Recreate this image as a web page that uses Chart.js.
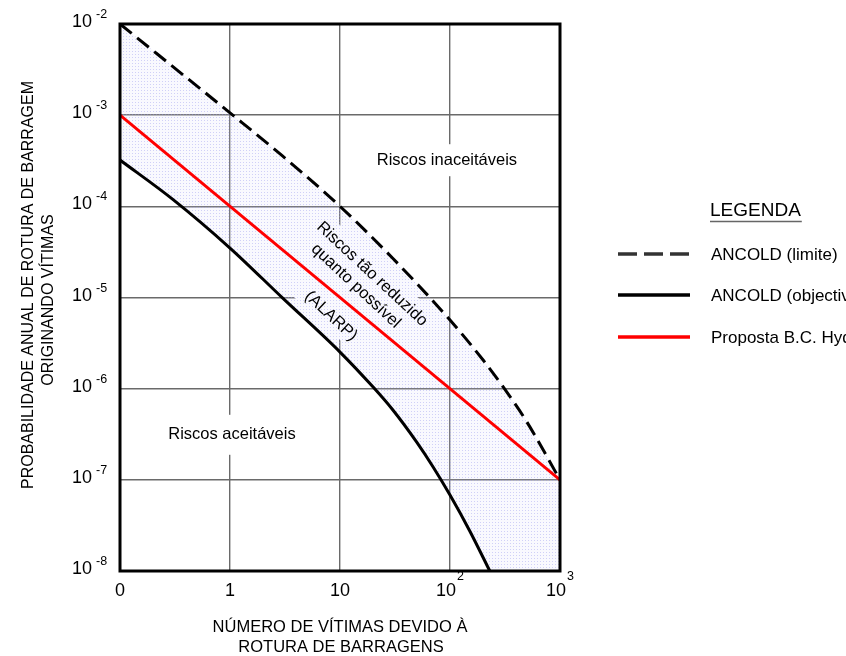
<!DOCTYPE html>
<html><head><meta charset="utf-8">
<script src="https://cdn.jsdelivr.net/npm/chart.js@4/dist/chart.umd.min.js"></script>
<style>html,body{margin:0;padding:0;background:#fff;overflow:hidden}canvas{display:block}</style>
</head><body>
<canvas id="c" width="846" height="656"></canvas>
<script>
// ---- data ----
const xTickValues = [0.1, 1, 10, 100, 1000];
const xTickBase   = ['0', '1', '10', '10', '10'];
const xTickSup    = ['', '', '', '2', '3'];
const yTickExps   = [-2, -3, -4, -5, -6, -7, -8];

const limiteN = [0.1, 1, 3, 10, 30, 100, 200, 300, 500, 1000];
const limiteP = [1e-2, 1.06e-3, 3.57e-4, 1e-4, 2.71e-5, 5.66e-6, 2.06e-6, 1.07e-6, 4.31e-7, 1e-7];

const objectivoN = [0.1, 0.3, 1, 3, 10, 20, 30, 50, 70, 100, 150, 230];
const objectivoP = [3.22e-4, 1.2e-4, 3.49e-5, 9.9e-6, 2.52e-6, 1.04e-6, 5.9e-7, 2.57e-7, 1.39e-7, 6.8e-8, 2.8e-8, 1e-8];

const hydroN = [0.1, 1000];
const hydroP = [1e-3, 1e-7];

const seriesLabels = ['ANCOLD (limite)', 'ANCOLD (objectivo)', 'Proposta B.C. Hydro'];
const yAxisTitle = ['PROBABILIDADE ANUAL DE ROTURA DE BARRAGEM', 'ORIGINANDO VÍTIMAS'];
const xAxisTitle = ['NÚMERO DE VÍTIMAS DEVIDO À', 'ROTURA DE BARRAGENS'];
const legendTitle = 'LEGENDA';
const zoneUnacceptable = 'Riscos inaceitáveis';
const zoneAcceptable = 'Riscos aceitáveis';
const zoneAlarp = ['Riscos tão reduzido', 'quanto possível', '(ALARP)'];

// ---- helpers ----
const FF = '"Liberation Sans", Arial, sans-serif';
const pts = (xs, ys) => xs.map((x, i) => ({x: x, y: ys[i]}));
// lower edge of the shaded band: the objectivo curve continued below the axis (clipped)
const boundary = pts(objectivoN, objectivoP).concat([{x: 1000, y: 3e-10}]);

const pc = document.createElement('canvas'); pc.width = 3; pc.height = 3;
const pcx = pc.getContext('2d');
pcx.fillStyle = 'rgba(215,215,250,0.14)'; pcx.fillRect(0, 0, 3, 3);
pcx.fillStyle = 'rgba(150,150,235,0.42)'; pcx.fillRect(0, 0, 1, 1);
const ctx0 = document.getElementById('c').getContext('2d');
const dotPattern = ctx0.createPattern(pc, 'repeat');

const ALARP_ANGLE = 43 * Math.PI / 180;
const alarpCenters = [[0.5727, 0.457], [0.536, 0.479], [0.4795, 0.534]];

const deco = {
  id: 'deco',
  beforeDatasetsDraw(chart) {
    const ctx = chart.ctx, a = chart.chartArea;
    const W = a.right - a.left, H = a.bottom - a.top;
    ctx.save();
    ctx.fillStyle = '#fff';
    ctx.font = '16.5px ' + FF;
    let w = ctx.measureText(zoneUnacceptable).width + 10;
    let cx = a.left + 0.743 * W, cy = a.top + 0.249 * H;
    ctx.fillRect(cx - w / 2, cy - 16, w, 32);
    w = ctx.measureText(zoneAcceptable).width + 10;
    cx = a.left + 0.2545 * W; cy = a.top + 0.751 * H;
    ctx.fillRect(cx - w / 2, cy - 20, w, 40);
    cx = a.left + alarpCenters[0][0] * W; cy = a.top + alarpCenters[0][1] * H;
    ctx.translate(cx, cy); ctx.rotate(ALARP_ANGLE);
    ctx.fillRect(-62, -14, 124, 84);
    ctx.restore();
  },
  afterDatasetsDraw(chart) {
    const ctx = chart.ctx, a = chart.chartArea;
    const W = a.right - a.left, H = a.bottom - a.top;
    ctx.save();
    ctx.strokeStyle = '#000'; ctx.lineWidth = 3;
    ctx.strokeRect(a.left, a.top, W, H);
    ctx.fillStyle = '#000';
    ctx.font = '16.5px ' + FF;
    ctx.textAlign = 'center'; ctx.textBaseline = 'middle';
    ctx.fillText(zoneUnacceptable, a.left + 0.743 * W, a.top + 0.249 * H);
    ctx.fillText(zoneAcceptable, a.left + 0.2545 * W, a.top + 0.751 * H);
    zoneAlarp.forEach((t, i) => {
      ctx.save();
      ctx.translate(a.left + alarpCenters[i][0] * W, a.top + alarpCenters[i][1] * H);
      ctx.rotate(ALARP_ANGLE);
      ctx.fillText(t, 0, 0);
      ctx.restore();
    });
    ctx.restore();
  },
  afterDraw(chart) {
    const ctx = chart.ctx, a = chart.chartArea;
    const xs = chart.scales.x, ys = chart.scales.y;
    ctx.save();
    ctx.fillStyle = '#000';
    yTickExps.forEach(e => {
      const y = ys.getPixelForValue(Math.pow(10, e));
      ctx.font = '18px ' + FF; ctx.textAlign = 'right'; ctx.textBaseline = 'alphabetic';
      ctx.fillText('10', a.left - 28, y + 3);
      ctx.font = '12.5px ' + FF; ctx.textAlign = 'left';
      ctx.fillText(String(e), a.left - 24, y - 6);
    });
    xTickValues.forEach((v, i) => {
      const x = xs.getPixelForValue(v);
      ctx.textBaseline = 'alphabetic'; ctx.textAlign = 'left';
      ctx.font = '18px ' + FF;
      const wb = ctx.measureText(xTickBase[i]).width;
      ctx.font = '12.5px ' + FF;
      const wsup = xTickSup[i] ? ctx.measureText(xTickSup[i]).width + 1 : 0;
      const x0 = x - (wb + wsup) / 2;
      ctx.font = '18px ' + FF;
      ctx.fillText(xTickBase[i], x0, a.bottom + 25);
      if (xTickSup[i]) { ctx.font = '12.5px ' + FF; ctx.fillText(xTickSup[i], x0 + wb + 1, a.bottom + 9); }
    });
    ctx.font = '16.5px ' + FF; ctx.textAlign = 'center'; ctx.textBaseline = 'middle';
    ctx.fillText(xAxisTitle[0], 340, 627);
    ctx.fillText(xAxisTitle[1], 341, 647);
    ctx.font = '16px ' + FF;
    ctx.save(); ctx.translate(29, 285); ctx.rotate(-Math.PI / 2); ctx.fillText(yAxisTitle[0], 0, 0); ctx.restore();
    ctx.save(); ctx.translate(49, 300); ctx.rotate(-Math.PI / 2); ctx.fillText(yAxisTitle[1], 0, 0); ctx.restore();
    ctx.textAlign = 'left'; ctx.textBaseline = 'alphabetic';
    ctx.font = '19px ' + FF;
    ctx.fillText(legendTitle, 710, 216);
    const lw = ctx.measureText(legendTitle).width;
    ctx.strokeStyle = '#666'; ctx.lineWidth = 1.5;
    ctx.beginPath(); ctx.moveTo(710, 221.5); ctx.lineTo(710 + lw + 1, 221.5); ctx.stroke();
    const legY = [254, 295, 337];
    [0, 1, 2].forEach(i => {
      const ds = chart.data.datasets[i];
      ctx.save();
      ctx.strokeStyle = i === 0 ? '#333' : ds.borderColor; ctx.lineWidth = 3.5;
      ctx.setLineDash(i === 0 ? [19, 7] : []);
      ctx.beginPath(); ctx.moveTo(618, legY[i]); ctx.lineTo(690, legY[i]); ctx.stroke();
      ctx.restore();
      ctx.font = '17px ' + FF; ctx.fillStyle = '#000';
      ctx.fillText(ds.label, 711, legY[i] + 6);
    });
    ctx.restore();
  }
};

new Chart(ctx0, {
  type: 'line',
  data: {
    datasets: [
      {label: seriesLabels[0], data: pts(limiteN, limiteP), borderColor: '#000', borderWidth: 3,
       borderDash: [15, 7], pointRadius: 0, cubicInterpolationMode: 'monotone',
       fill: 3, backgroundColor: dotPattern, order: 4},
      {label: seriesLabels[1], data: pts(objectivoN, objectivoP), borderColor: '#000', borderWidth: 3,
       pointRadius: 0, cubicInterpolationMode: 'monotone', fill: false, order: 2},
      {label: seriesLabels[2], data: pts(hydroN, hydroP), borderColor: '#ff0000', borderWidth: 3,
       pointRadius: 0, tension: 0, fill: false, order: 1},
      {label: 'boundary', data: boundary, borderColor: 'rgba(0,0,0,0)', borderWidth: 0,
       pointRadius: 0, cubicInterpolationMode: 'monotone', fill: false, order: 5}
    ]
  },
  options: {
    responsive: false, animation: false, devicePixelRatio: 1,
    layout: {padding: {left: 120, top: 24, right: 286, bottom: 85}},
    plugins: {legend: {display: false}, tooltip: {enabled: false}, title: {display: false}},
    scales: {
      x: {type: 'logarithmic', min: 0.1, max: 1000,
          afterBuildTicks: s => { s.ticks = xTickValues.map(v => ({value: v})); },
          ticks: {display: false}, border: {display: false},
          grid: {color: '#6a6a6a', lineWidth: 1.4, drawTicks: false}},
      y: {type: 'logarithmic', min: 1e-8, max: 1e-2,
          afterBuildTicks: s => { s.ticks = yTickExps.map(e => ({value: Math.pow(10, e)})); },
          ticks: {display: false}, border: {display: false},
          grid: {color: '#6a6a6a', lineWidth: 1.4, drawTicks: false}}
    }
  },
  plugins: [deco]
});
</script>
</body></html>
